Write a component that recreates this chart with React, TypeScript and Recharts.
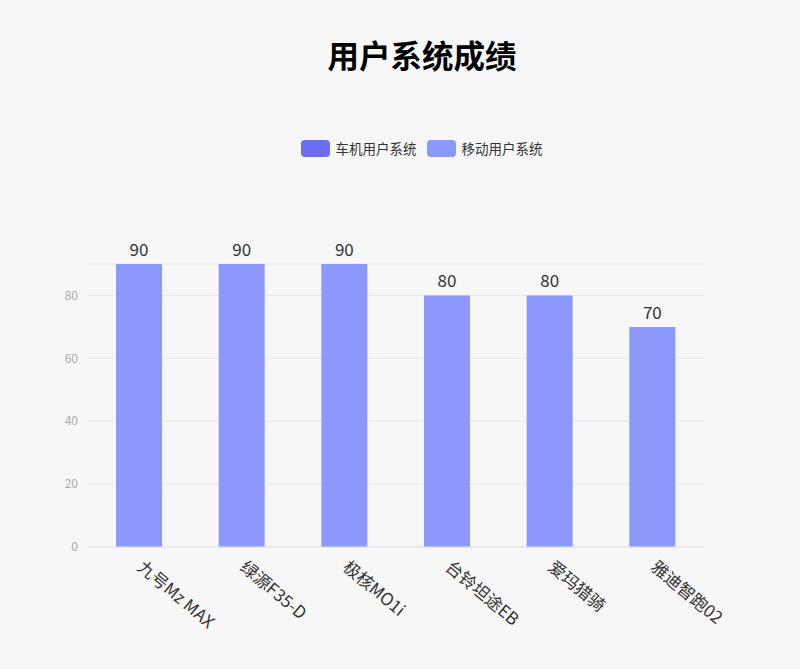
import React from 'react'
import { BarChart, Bar, XAxis, YAxis, CartesianGrid, LabelList } from 'recharts'

const categories = ['九号Mz MAX', '绿源F35-D', '极核MO1i', '台铃坦途EB', '爱玛猎骑', '雅迪智跑02']
const carSystem = [0, 0, 0, 0, 0, 0]
const mobileSystem = [90, 90, 90, 80, 80, 70]
const yTicks = [0, 20, 40, 60, 80, 90]

const seriesNames = ['车机用户系统', '移动用户系统']
const seriesColors = ['#6b6ef1', '#8c98fc']

const data = categories.map((name, i) => ({
  name,
  car: carSystem[i],
  mobile: mobileSystem[i],
}))

const FONT = '"Noto Sans CJK SC", "Noto Sans", sans-serif'

function RotatedTick(props: any) {
  const { x, y, payload } = props
  return (
    <g transform={`translate(${x - 3},${y + 14})`}>
      <text transform="rotate(40)" textAnchor="start" fontSize={17} fill="#333" fontFamily={FONT}>
        {payload.value}
      </text>
    </g>
  )
}

export default function App() {
  return (
    <div
      style={{
        position: 'absolute',
        left: 0,
        top: 0,
        width: 800,
        height: 669,
        background: '#f7f7f7',
        fontFamily: FONT,
      }}
    >
      <div
        style={{
          position: 'absolute',
          left: 0,
          width: 844,
          top: 32,
          textAlign: 'center',
          fontSize: 31.5,
          fontWeight: 700,
          color: '#000',
          lineHeight: '44px',
        }}
      >
        用户系统成绩
      </div>
      <div
        style={{
          position: 'absolute',
          left: 0,
          width: 843,
          top: 138,
          display: 'flex',
          justifyContent: 'center',
          gap: 10,
          fontSize: 13.5,
          color: '#333',
        }}
      >
        {seriesNames.map((n, i) => (
          <div key={n} style={{ display: 'flex', alignItems: 'center', gap: 6 }}>
            <span
              style={{
                display: 'inline-block',
                width: 29,
                height: 17,
                borderRadius: 4,
                background: seriesColors[i],
              }}
            />
            <span>{n}</span>
          </div>
        ))}
      </div>
      <BarChart
        width={800}
        height={669}
        data={data}
        margin={{ top: 264, right: 96, bottom: 0, left: 0 }}
        style={{ position: 'absolute', left: 0, top: 0 }}
      >
        <CartesianGrid vertical={false} stroke="#e6e6ef" />
        <XAxis
          dataKey="name"
          height={122}
          interval={0}
          tickLine={false}
          axisLine={{ stroke: '#e0e0e8' }}
          tick={<RotatedTick />}
        />
        <YAxis
          width={88}
          domain={[0, 90]}
          ticks={yTicks}
          tickFormatter={(v: number) => (v === 90 ? '' : String(v))}
          axisLine={false}
          tickLine={false}
          tick={{ fontSize: 12, fill: '#aaa', fontFamily: FONT }}
          tickMargin={4}
        />
        <Bar dataKey="car" name={seriesNames[0]} stackId="a" fill={seriesColors[0]} barSize={46} isAnimationActive={false} />
        <Bar dataKey="mobile" name={seriesNames[1]} stackId="a" fill={seriesColors[1]} barSize={46} isAnimationActive={false}>
          <LabelList dataKey="mobile" position="top" offset={8} fontSize={17} fill="#333" fontFamily={FONT} />
        </Bar>
      </BarChart>
    </div>
  )
}
